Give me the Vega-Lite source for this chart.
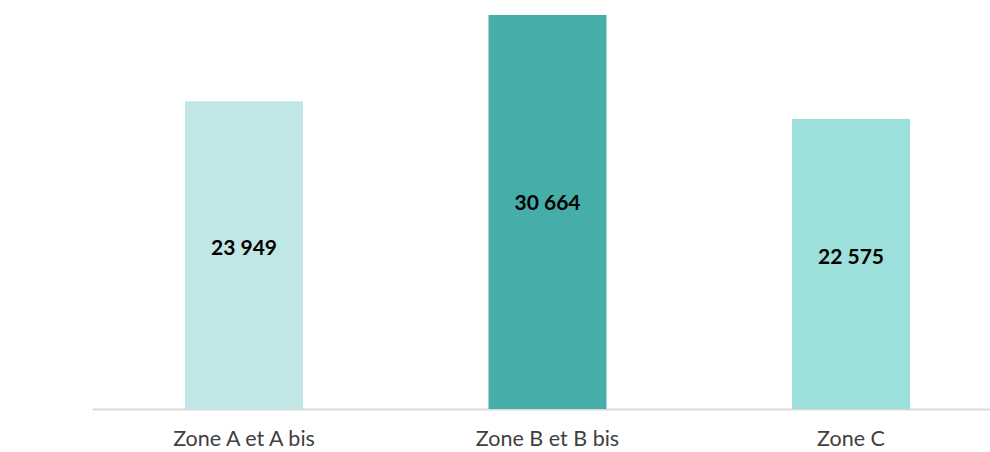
{
  "$schema": "https://vega.github.io/schema/vega-lite/v6.json",
  "width": 898,
  "height": 394,
  "padding": {"left": 92, "top": 15, "right": 0, "bottom": 43},
  "autosize": {"type": "none"},
  "background": "white",
  "config": {"view": {"stroke": null}, "font": "Lato"},
  "data": {
    "values": [
      {"zone": "Zone A et A bis", "value": 23949, "label": "23 949"},
      {"zone": "Zone B et B bis", "value": 30664, "label": "30 664"},
      {"zone": "Zone C", "value": 22575, "label": "22 575"}
    ]
  },
  "transform": [{"calculate": "datum.value * 0.52", "as": "mid"}],
  "encoding": {
    "x": {
      "field": "zone",
      "type": "nominal",
      "sort": null,
      "scale": {"paddingInner": 0.6112, "paddingOuter": 0.285, "align": 0.5376},
      "axis": {
        "title": null,
        "labelAngle": 0,
        "ticks": false,
        "domainColor": "#d9d9d9",
        "domainWidth": 2,
        "labelFont": "Lato",
        "labelFontSize": 21.5,
        "labelColor": "#404040",
        "labelPadding": 19
      }
    }
  },
  "layer": [
    {
      "mark": {"type": "bar"},
      "encoding": {
        "y": {"field": "value", "type": "quantitative", "scale": {"domain": [0, 30664], "nice": false}, "axis": null},
        "color": {
          "field": "zone",
          "type": "nominal",
          "scale": {"domain": ["Zone A et A bis", "Zone B et B bis", "Zone C"], "range": ["#c0e6e5", "#45aea8", "#9ddfdb"]},
          "legend": null
        }
      }
    },
    {
      "mark": {"type": "text", "fontWeight": "bold", "fontSize": 21, "font": "Lato", "color": "#000000", "baseline": "middle"},
      "encoding": {
        "y": {"field": "mid", "type": "quantitative"},
        "text": {"field": "label"}
      }
    }
  ]
}
